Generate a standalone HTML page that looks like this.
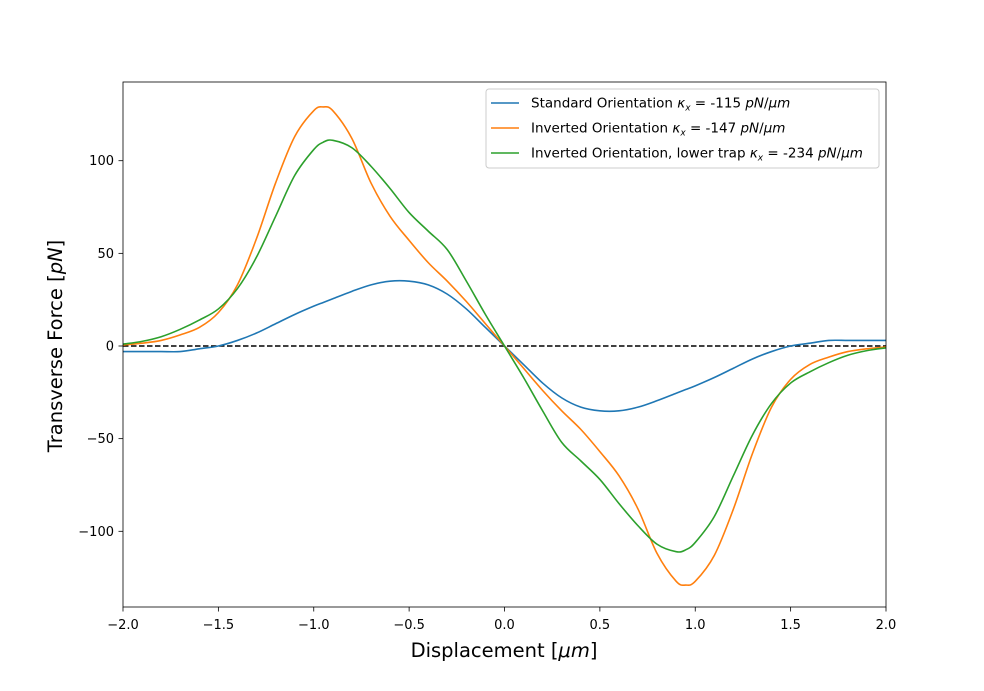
<!DOCTYPE html>
<html><head><meta charset="utf-8"><style>
body{margin:0;background:#fff;}
svg text{font-family:"DejaVu Sans","Liberation Sans",sans-serif;}
</style></head><body>
<svg id="chart" width="984" height="686" xmlns="http://www.w3.org/2000/svg"></svg>
<script>
const xs=[-2,-1.9,-1.8,-1.7,-1.6,-1.5,-1.4,-1.3,-1.2,-1.1,-1.0,-0.95,-0.9,-0.8,-0.7,-0.6,-0.5,-0.4,-0.3,-0.2,-0.1,0,0.1,0.2,0.3,0.4,0.5,0.6,0.7,0.8,0.9,0.95,1.0,1.1,1.2,1.3,1.4,1.5,1.6,1.7,1.8,1.9,2];
const standard=[-3,-3,-3,-3,-1.5,0,3,7,12,17,21.5,23.5,25.5,29.5,33,35,35,33,28,20,10,0,-10,-20,-28,-33,-35,-35,-33,-29.5,-25.5,-23.5,-21.5,-17,-12,-7,-3,0,1.5,3,3,3,3];
const inverted=[0.5,1.5,3,6,10,18,33,58,88,113,127,129,127,112,88,70,57,45,35,24,12,0,-12,-24,-35,-45,-57,-70,-88,-112,-127,-129,-127,-113,-88,-58,-33,-18,-10,-6,-3,-1.5,-0.5];
const lower=[1,2.5,5,9,14,20,31,48,70,92,106,110,111,107,97,85,72,62,52,35,17,0,-17,-35,-52,-62,-72,-85,-97,-107,-111,-110,-106,-92,-70,-48,-31,-20,-14,-9,-5,-2.5,-1];
const xTicks=[-2,-1.5,-1,-0.5,0,0.5,1,1.5,2];
const xTickLabels=["\u22122.0","\u22121.5","\u22121.0","\u22120.5","0.0","0.5","1.0","1.5","2.0"];
const yTicks=[-100,-50,0,50,100];
const yTickLabels=["\u2212100","\u221250","0","50","100"];
const L=123,R=886,T=82,B=607;
const X=v=>L+(v+2)/4*(R-L);
const Y=v=>346-v*1.853;
const svg=document.getElementById('chart');
const NS="http://www.w3.org/2000/svg";
function mk(tag,attrs,parent){const e=document.createElementNS(NS,tag);for(const k in attrs)e.setAttribute(k,attrs[k]);(parent||svg).appendChild(e);return e;}
function txt(s,attrs){const e=mk('text',attrs);e.textContent=s;return e;}
function smooth(ys){const p=xs.map((x,i)=>[X(x),Y(ys[i])]);let d=`M${p[0][0]},${p[0][1]}`;for(let i=0;i<p.length-1;i++){const p0=p[i-1]||p[i],p1=p[i],p2=p[i+1],p3=p[i+2]||p2;const c1=[p1[0]+(p2[0]-p0[0])/6,p1[1]+(p2[1]-p0[1])/6],c2=[p2[0]-(p3[0]-p1[0])/6,p2[1]-(p3[1]-p1[1])/6];d+=`C${c1[0]},${c1[1]} ${c2[0]},${c2[1]} ${p2[0]},${p2[1]}`;}return d;}
const zl=mk('line',{x1:L,x2:R,y1:Y(0),y2:Y(0),stroke:'#000','stroke-width':1.5,'stroke-dasharray':'5.5,2.5'});


const series=[[standard,'#1f77b4','standard-orientation-line'],[inverted,'#ff7f0e','inverted-orientation-line'],[lower,'#2ca02c','inverted-lower-trap-line']];
series.forEach(s=>{const p=mk('path',{d:smooth(s[0]),fill:'none',stroke:s[1],'stroke-width':1.6});

});
const fr=mk('rect',{x:L,y:T,width:R-L,height:B-T,fill:'none',stroke:'#000','stroke-width':0.8});


xTicks.forEach((t,i)=>{mk('line',{x1:X(t),x2:X(t),y1:B,y2:B+4.5,stroke:'#000','stroke-width':0.8});
const e=txt(xTickLabels[i],{x:X(t),y:B+22,'text-anchor':'middle','font-size':13});

});
yTicks.forEach((t,i)=>{mk('line',{x1:L-4.5,x2:L,y1:Y(t),y2:Y(t),stroke:'#000','stroke-width':0.8});
const e=txt(yTickLabels[i],{x:L-9,y:Y(t)+4.5,'text-anchor':'end','font-size':13});

});
const xt=txt('',{x:504,y:657,'text-anchor':'middle','font-size':19.5});
xt.innerHTML='Displacement [<tspan font-style="italic">μm</tspan>]';


const yt=txt('',{x:0,y:0,'text-anchor':'middle','font-size':19.5,transform:'translate(62,346) rotate(-90)'});
yt.innerHTML='Transverse Force [<tspan font-style="italic">pN</tspan>]';


const lg=mk('rect',{x:486,y:89,width:393,height:79,fill:'#fff',stroke:'#ccc','stroke-width':1,rx:3});


const labels=['Standard Orientation <tspan font-style="italic">κ<tspan font-size="9" dy="3">x</tspan></tspan><tspan dy="-3"> = -115 </tspan><tspan font-style="italic">pN</tspan>/<tspan font-style="italic">μm</tspan>',
'Inverted Orientation <tspan font-style="italic">κ<tspan font-size="9" dy="3">x</tspan></tspan><tspan dy="-3"> = -147 </tspan><tspan font-style="italic">pN</tspan>/<tspan font-style="italic">μm</tspan>',
'Inverted Orientation, lower trap <tspan font-style="italic">κ<tspan font-size="9" dy="3">x</tspan></tspan><tspan dy="-3"> = -234 </tspan><tspan font-style="italic">pN</tspan>/<tspan font-style="italic">μm</tspan>'];
series.forEach((s,i)=>{const y=103+i*25;mk('line',{x1:491,x2:519,y1:y,y2:y,stroke:s[1],'stroke-width':1.6});
const e=txt('',{x:531,y:y+4.5,'font-size':13.5});e.innerHTML=labels[i];

});
</script>
</body></html>
